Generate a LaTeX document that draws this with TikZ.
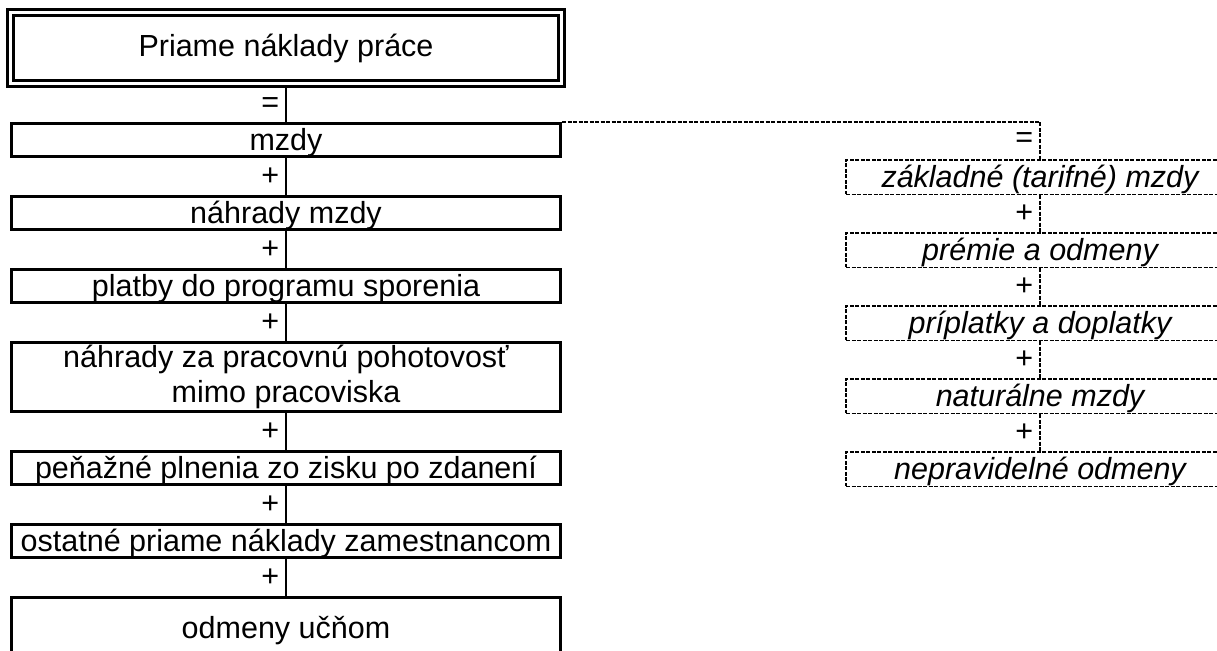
\documentclass[tikz,border=0pt]{standalone}
\usepackage{fontspec}
\setmainfont{Liberation Sans}
\usetikzlibrary{positioning}

\begin{document}
\begin{tikzpicture}[x=1pt,y=-1pt,node distance=37pt,
                    every node/.style={font=\fontsize{30.5}{35}\selectfont,inner sep=0pt},
                    headbox/.style={draw=black,line width=3pt,double,double distance=3pt,outer sep=4.5pt,minimum width=551pt,minimum height=71pt},
                    costbox/.style={draw=black,line width=3pt,minimum width=549pt,minimum height=33pt,align=center,text height=26pt,text depth=5pt},
                    wagebox/.style={draw=black,line width=1.5pt,dash pattern=on 4pt off 1.5pt,minimum width=388pt,minimum height=34.5pt,text height=26pt,text depth=5pt,font=\fontsize{30.5}{35}\selectfont\itshape},
                    costlink/.style={black,line width=1.5pt},
                    wagelink/.style={black,line width=1.5pt,dash pattern=on 4pt off 1.5pt},
                    sign/.style={midway,left=6pt}]
                          \useasboundingbox (0,0) rectangle (1217,650);

                          \node[headbox] (total) at (286,48) {Priame náklady práce};
                          \node[costbox] (mzdy) at (286,140) {mzdy};
                          \node[costbox,below=of mzdy] (nahrady) {náhrady mzdy};
                          \node[costbox,below=of nahrady] (sporenie) {platby do programu sporenia};
                          \node[costbox,below=of sporenie,minimum height=69pt,text height=,text depth=] (pohotovost) {náhrady za pracovnú pohotovosť\\mimo pracoviska};
                          \node[costbox,below=of pohotovost] (zisk) {peňažné plnenia zo zisku po zdanení};
                          \node[costbox,below=of zisk] (ostatne) {ostatné priame náklady zamestnancom};
                          \node[costbox,below=of ostatne,minimum height=61pt] (ucni) {odmeny učňom};

                          \node[wagebox] (zakladne) at (1040,177) {základné (tarifné) mzdy};
                          \node[wagebox,below=of zakladne] (premie) {prémie a odmeny};
                          \node[wagebox,below=of premie] (priplatky) {príplatky a doplatky};
                          \node[wagebox,below=of priplatky] (naturalne) {naturálne mzdy};
                          \node[wagebox,below=of naturalne] (nepravidelne) {nepravidelné odmeny};

                          \draw[costlink] (total) -- node[sign] {=} (mzdy);
                          \draw[costlink] (mzdy) -- node[sign] {+} (nahrady);
                          \draw[costlink] (nahrady) -- node[sign] {+} (sporenie);
                          \draw[costlink] (sporenie) -- node[sign] {+} (pohotovost);
                          \draw[costlink] (pohotovost) -- node[sign] {+} (zisk);
                          \draw[costlink] (zisk) -- node[sign] {+} (ostatne);
                          \draw[costlink] (ostatne) -- node[sign] {+} (ucni);

                          \draw[wagelink] (mzdy.north east) -| node[sign,pos=0.75] {=} (zakladne.north);
                          \draw[wagelink] (zakladne) -- node[sign] {+} (premie);
                          \draw[wagelink] (premie) -- node[sign] {+} (priplatky);
                          \draw[wagelink] (priplatky) -- node[sign] {+} (naturalne);
                          \draw[wagelink] (naturalne) -- node[sign] {+} (nepravidelne);
\end{tikzpicture}
\end{document}
